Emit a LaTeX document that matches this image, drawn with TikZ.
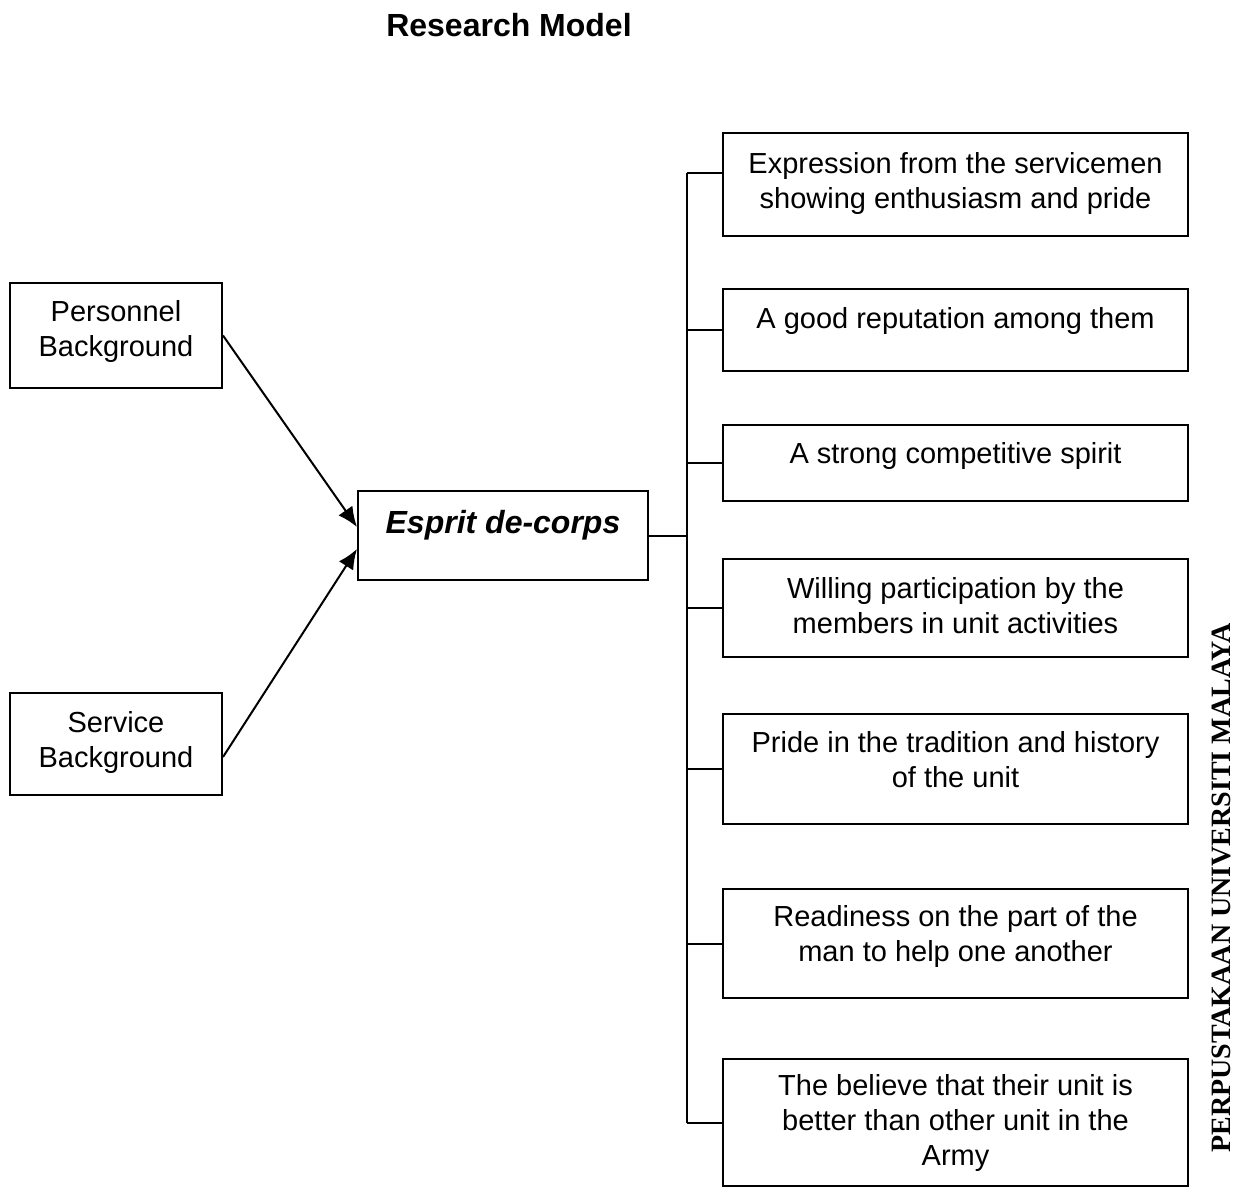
\documentclass[tikz,border=0pt]{standalone}
\usepackage{fontspec}
\setmainfont{Liberation Sans}
\newfontfamily\stampfont{Liberation Serif}
\usetikzlibrary{positioning,arrows.meta}
\tikzset{>={Latex[length=10pt,width=8.5pt]}}
\tikzset{
  box/.style={draw, align=center, inner sep=2pt,
    font=\fontsize{14.5}{17.5}\selectfont,
    execute at end node={\rule[-#1]{0pt}{#1}}},
  box/.default=8pt,
  item/.style={box=#1, minimum width=232.5pt},
  item/.default=8pt
}

\begin{document}
\begin{tikzpicture}[x=0.5pt, y=-0.5pt, line width=1pt]
      \useasboundingbox (0,0) rectangle (1240,1188);
      \node[font=\bfseries\fontsize{16}{19}\selectfont] (title) at (509,25) {Research Model};
      % left side
      \node[box=7pt, minimum width=106pt, minimum height=52.5pt] (pers) at (116,335.5) {Personnel\\Background};
      \node[box=5pt, minimum width=106pt, minimum height=51pt, below=151.5pt of pers] (serv) {Service\\Background};
      \node[box=13.5pt, minimum width=145pt, minimum height=44.5pt, font=\bfseries\itshape\fontsize{16}{19}\selectfont] (esprit) at (503,535.5) {Esprit de-corps};
      % right column
      \node[item=4pt, minimum height=51.5pt] (b1) at (955.5,184.5) {Expression from the servicemen\\showing enthusiasm and pride};
      \node[item=12pt, minimum height=41pt, below=25.5pt of b1] (b2) {A good reputation among them};
      \node[item=10pt, minimum height=38pt, below=26pt of b2] (b3) {A strong competitive spirit};
      \node[item=3pt, minimum height=49pt, below=28pt of b3] (b4) {Willing participation by the\\members in unit activities};
      \node[item=10pt, minimum height=55pt, below=27.5pt of b4] (b5) {Pride in the tradition and history\\of the unit};
      \node[item=10pt, minimum height=54.5pt, below=31.5pt of b5] (b6) {Readiness on the part of the\\man to help one another};
      \node[item=2pt, minimum height=63.5pt, below=29.5pt of b6] (b7) {The believe that their unit is\\better than other unit in the\\Army};
      \node[rotate=90, font=\stampfont\bfseries\fontsize{14}{16}\selectfont] (stamp) at (1221,888) {PERPUSTAKAAN UNIVERSITI MALAYA};
      % connectors
      \coordinate[right=19pt of esprit.east] (bus);
      \coordinate (t1) at ([yshift=5.75pt]b1.west);
      \draw (esprit.east) -- (bus);
      \draw (t1 -| bus) -- (b7.west -| bus);
      \draw (t1 -| bus) -- (t1);
      \foreach \i in {2,...,7}
        \draw (b\i.west -| bus) -- (b\i.west);
      \draw[->] (pers.east) -- ([yshift=4.25pt]esprit.west);
      \draw[->] ([yshift=-6.5pt]serv.east) -- ([yshift=-6.75pt]esprit.west);
\end{tikzpicture}
\end{document}
